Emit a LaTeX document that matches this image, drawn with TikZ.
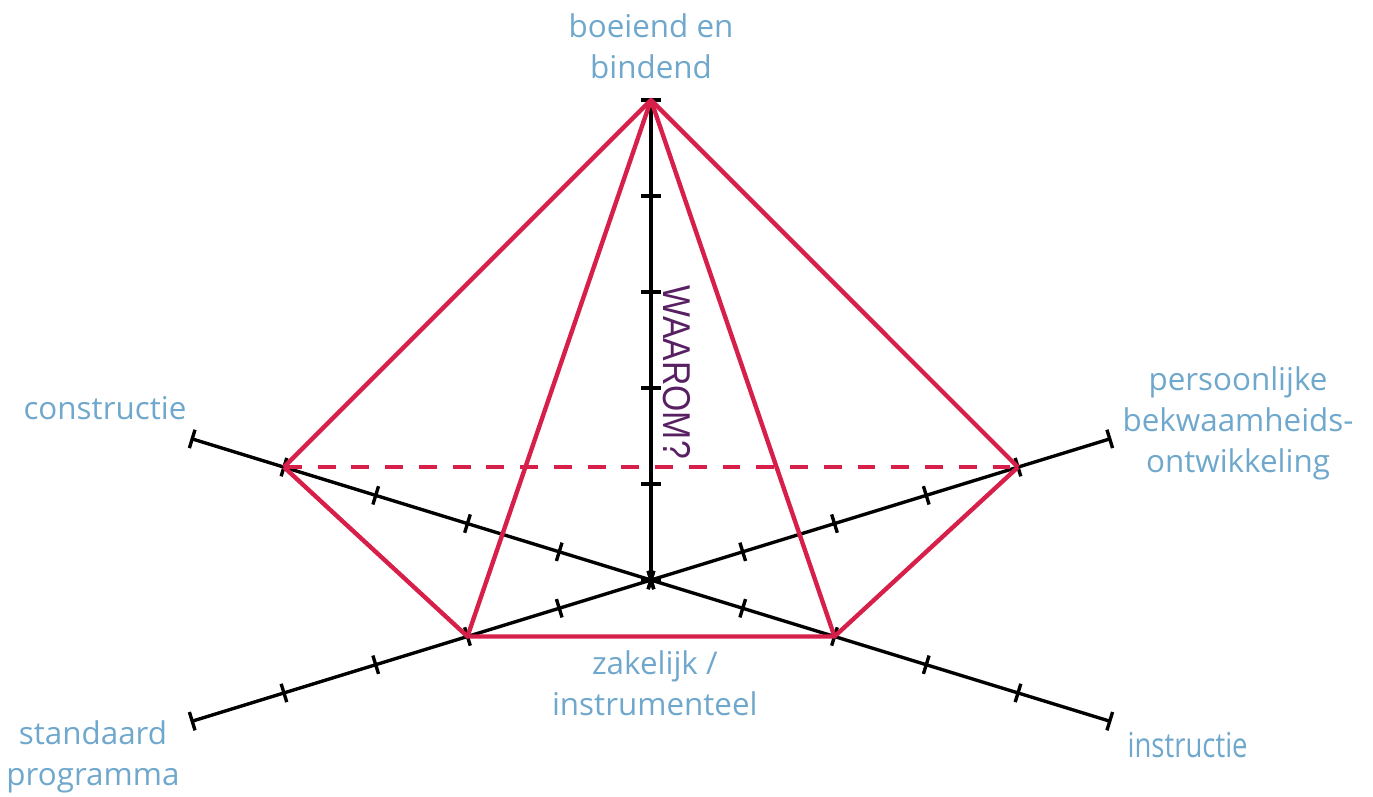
\documentclass[tikz,border=0pt]{standalone}
\usepackage{fontspec}
\setmainfont{Open Sans}
\newfontfamily\arialfont{Liberation Sans}
\usepackage{xcolor}
\usepackage{tikz}
\usetikzlibrary{positioning}
\definecolor{lblblue}{RGB}{111,168,204}
\definecolor{webred}{RGB}{214,32,74}
\definecolor{whypurple}{RGB}{88,31,98}

\begin{document}
\begin{tikzpicture}[
    axis/.style={black, line width=1pt},
    web/.style={draw=webred, line width=1.3pt, line join=round},
    lbl/.style={text=lblblue, align=center, inner sep=0pt, font=\fontsize{9.3}{12.2}\selectfont}
]
\useasboundingbox (-6.781,-2.25) rectangle (7.521,6.042);

% axes
\coordinate (o) at (0,0);
\coordinate (top) at (90:5);
\coordinate (cl) at (162.9:5);
\coordinate (cr) at (-17.1:5);
\coordinate (pl) at (197.1:5);
\coordinate (pr) at (17.1:5);

\draw[axis] (o) -- (top);
\draw[axis] (cl) -- (cr);
\draw[axis] (pl) -- (pr);
\foreach \a in {90,162.9,-17.1,17.1,197.1}
  \foreach \k in {0,...,5}
    \draw[axis] (\a:\k) ++(\a+90:0.1) -- ++(\a-90:0.2);

% web
\coordinate (w1) at (90:5);
\coordinate (w2) at (162.9:4);
\coordinate (w3) at (17.1:4);
\coordinate (w4) at (197.1:2);
\coordinate (w5) at (-17.1:2);

\draw[web] (w2) -- (w1) -- (w3);
\draw[web] (w4) -- (w1) -- (w5);
\draw[web] (w2) -- (w4) -- (w5) -- (w3);
\draw[web, dash pattern=on 5.3pt off 4.7pt] (w2) -- (w3);

% labels
\node[lbl] (boeiend) at (0,5.5625) {boeiend en\\bindend};
\node[lbl] (constr) at (-5.6875,1.79) {constructie};
\node[lbl] (persoon) at (6.115,1.635) {persoonlijke\\bekwaamheids-\\ontwikkeling};
\node[lbl] (standaard) at (-5.8125,-1.844) {standaard\\programma};
\node[lbl, font=\fontsize{10.2}{12}\selectfont] (instr) at (5.59,-1.719) {\scalebox{0.8}[1]{instructie}};
\node[lbl] (zakelijk) at (0.04,-1.073) {zakelijk /\\instrumenteel};
\node[text=whypurple, rotate=-90, inner sep=0pt, font=\arialfont\fontsize{11.5}{13}\selectfont] (waarom) at (0.27,2.165) {\scalebox{0.87}[1]{WAAROM?}};
\end{tikzpicture}
\end{document}
